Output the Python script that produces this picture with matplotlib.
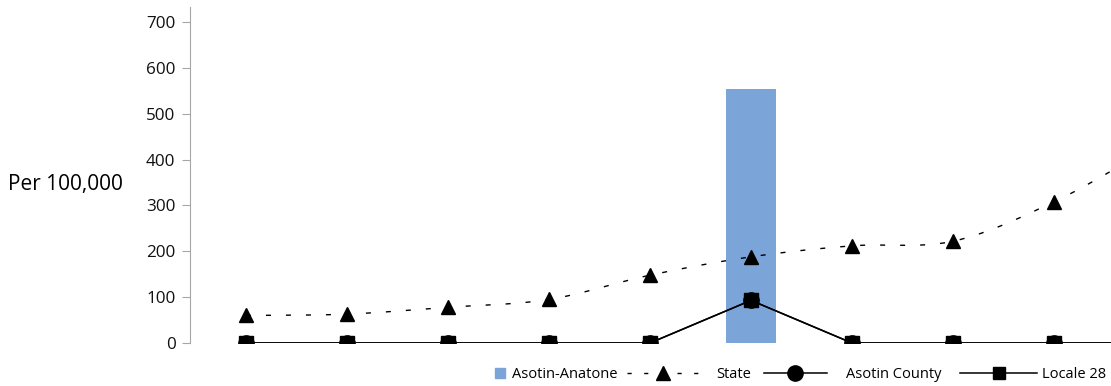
import numpy as np
import matplotlib.pyplot as plt
from matplotlib.lines import Line2D

plt.rcParams['font.family'] = ['Open Sans', 'DejaVu Sans']

# data (9 visible categories, a 10th one sits past the right edge)
categories = list(range(10))
bar_values = [0, 0, 0, 0, 0, 555, 0, 0, 0, 0]
state = [60, 63, 78, 95, 148, 188, 212, 222, 308, 430]
asotin_county = [0, 0, 0, 0, 0, 93, 0, 0, 0, 0]
locale_28 = [0, 0, 0, 0, 0, 93, 0, 0, 0, 0]
y_ticks = [0, 100, 200, 300, 400, 500, 600, 700]

bar_color = '#7ba5d9'
axis_gray = '#a6a6a6'
dash = (0, (3.6, 10.8))


def smooth(x, y, n=30):
    # catmull-rom style smoothing like the office "smoothed line"
    x = np.asarray(x, float)
    y = np.asarray(y, float)
    px = np.concatenate([[2 * x[0] - x[1]], x, [2 * x[-1] - x[-2]]])
    py = np.concatenate([[2 * y[0] - y[1]], y, [2 * y[-1] - y[-2]]])
    xs, ys = [], []
    t = np.linspace(0, 1, n)
    for i in range(1, len(px) - 2):
        p0, p1, p2, p3 = (np.array([px[j], py[j]]) for j in range(i - 1, i + 3))
        c1 = p1 + (p2 - p0) / 6
        c2 = p2 - (p3 - p1) / 6
        pts = ((1 - t) ** 3)[:, None] * p1 + (3 * (1 - t) ** 2 * t)[:, None] * c1 \
            + (3 * (1 - t) * t ** 2)[:, None] * c2 + (t ** 3)[:, None] * p2
        xs.extend(pts[:, 0])
        ys.extend(pts[:, 1])
    return np.array(xs), np.array(ys)


fig = plt.figure(figsize=(11.11, 3.86), dpi=100)
ax = fig.add_axes([190 / 1111, 43 / 386, 1 - 190 / 1111, 336 / 386])

x = np.array(categories)
ax.bar(x, bar_values, width=0.5, color=bar_color, zorder=1)

sx, sy = smooth(x, state)
ax.plot(sx, sy, color='black', lw=1, linestyle=dash, zorder=2)
ax.plot(x, state, linestyle='none', marker='^', ms=10, color='black', zorder=3)

ax.plot(x, asotin_county, color='black', lw=1.1, marker='o', ms=11, zorder=3)
ax.plot(x, locale_28, color='black', lw=1.1, marker='s', ms=10, zorder=4)

ax.set_xlim(-0.554, 8.564)
ax.set_ylim(0, 733)
ax.set_yticks(y_ticks)
ax.set_xticks([])
for s in ['top', 'right', 'bottom']:
    ax.spines[s].set_visible(False)
ax.spines['left'].set_color(axis_gray)
ax.tick_params(axis='y', colors=axis_gray, labelcolor='#111111', labelsize=12.3,
               length=6, pad=4.5)

fig.text(8 / 1111, 1 - 185 / 386, 'Per 100,000', fontsize=15, ha='left', va='center')

# legend: one small legend per entry so each handle can have its own length
entries = [
    (Line2D([], [], color=bar_color, linestyle='none', marker='s', ms=7.5),
     'Asotin-Anatone', 495, 0.7, 0.45),
    (Line2D([], [], color='black', lw=1, linestyle=(0, (3.0, 9.0)), marker='^', ms=10),
     'State', 627, 5.0, 1.1),
    (Line2D([], [], color='black', lw=1.1, marker='o', ms=11),
     'Asotin County', 764, 4.3, 1.35),
    (Line2D([], [], color='black', lw=1.1, marker='s', ms=8.5),
     'Locale 28', 960, 5.3, 0.35),
]
for handle, label, x0, hlen, hpad in entries:
    leg = fig.legend([handle], [label], loc='center left',
                     bbox_to_anchor=(x0 / 1111, 11.5 / 386), frameon=False,
                     borderpad=0, borderaxespad=0, handlelength=hlen,
                     handletextpad=hpad, prop={'size': 10.5})

fig.savefig('out.png', dpi=100)
